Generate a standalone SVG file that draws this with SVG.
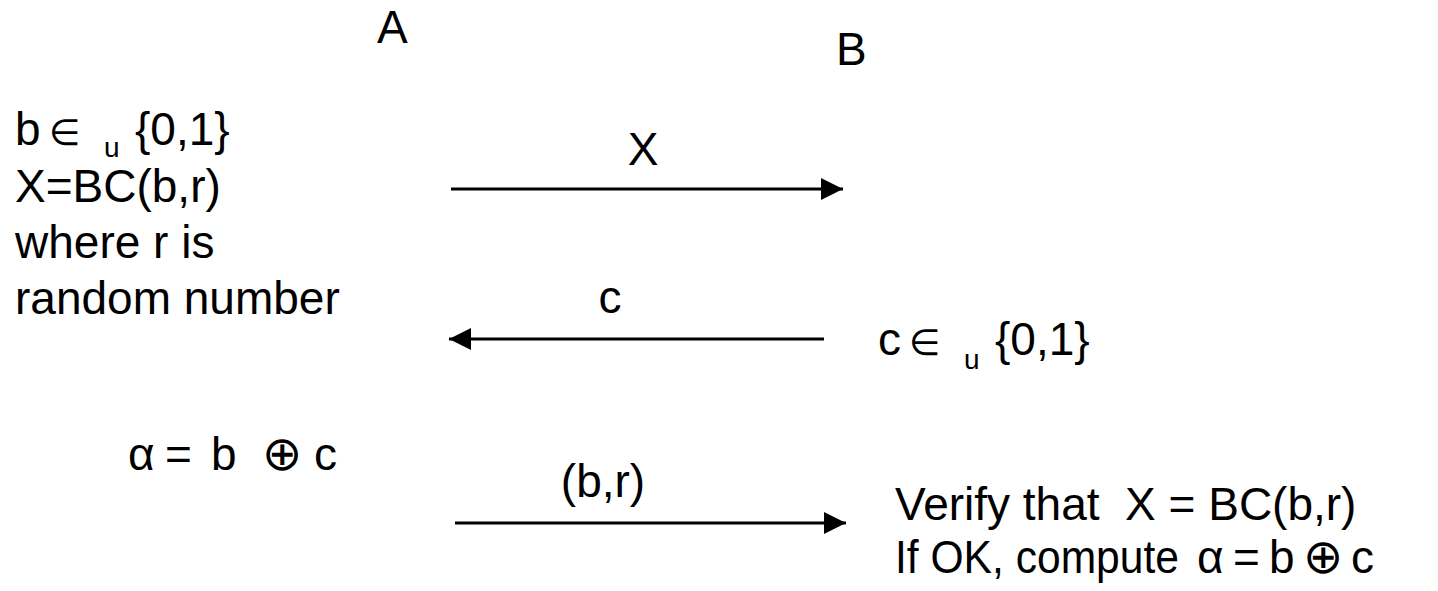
<svg xmlns="http://www.w3.org/2000/svg" width="1438" height="591" viewBox="0 0 1438 591">
<style>
text{font-family:"Liberation Sans",Arial,"DejaVu Sans",sans-serif;font-size:46px;fill:#000}
.sub{font-size:28px}
.el{font-family:"DejaVu Sans","Liberation Sans",sans-serif;font-size:36px}
.op{font-family:"DejaVu Sans","Liberation Sans",sans-serif;font-size:48px}
.ar{stroke:#000;stroke-width:3;fill:none}
</style>
<defs>
<marker id="ah" viewBox="0 0 22 22" refX="22" refY="11" markerWidth="22" markerHeight="22" orient="auto" markerUnits="userSpaceOnUse">
<path d="M0,0 L22,11 L0,22 Z" fill="#000"/>
</marker>
</defs>
<g id="partyA"><text x="377" y="43">A</text></g>
<g id="partyB"><text x="836" y="65">B</text></g>
<g id="stepA1">
<text x="15" y="145">b</text>
<text x="49" y="145" class="el">∈</text>
<text x="104" y="157" class="sub">u</text>
<text x="135" y="145">{0,1}</text>
<text x="15" y="202">X=BC(b,r)</text>
<text x="15" y="258">where r is</text>
<text x="15" y="314">random number</text>
</g>
<g id="stepB1">
<text x="878" y="355">c</text>
<text x="909" y="355" class="el">∈</text>
<text x="964" y="369" class="sub">u</text>
<text x="995" y="355">{0,1}</text>
</g>
<g id="stepA2">
<text x="128" y="470">α</text>
<text x="165" y="470">=</text>
<text x="211" y="470">b</text>
<text x="262" y="470" class="op">⊕</text>
<text x="314" y="470">c</text>
</g>
<g id="stepB2">
<text x="895" y="520" xml:space="preserve">Verify that  X = BC(b,r)</text>
<text x="895" y="573" textLength="284" lengthAdjust="spacingAndGlyphs">If OK, compute</text>
<text x="1197" y="573">α</text>
<text x="1233" y="573">=</text>
<text x="1269" y="573">b</text>
<text x="1303" y="573" class="op">⊕</text>
<text x="1351" y="573">c</text>
</g>
<g id="connectors">
<line class="ar" x1="451" y1="189" x2="843" y2="189" marker-end="url(#ah)"/>
<text x="643" y="165" text-anchor="middle">X</text>
<line class="ar" x1="824" y1="339" x2="449" y2="339" marker-end="url(#ah)"/>
<text x="610" y="313" text-anchor="middle">c</text>
<line class="ar" x1="455" y1="523" x2="846" y2="523" marker-end="url(#ah)"/>
<text x="603" y="497" text-anchor="middle">(b,r)</text>
</g>
</svg>
